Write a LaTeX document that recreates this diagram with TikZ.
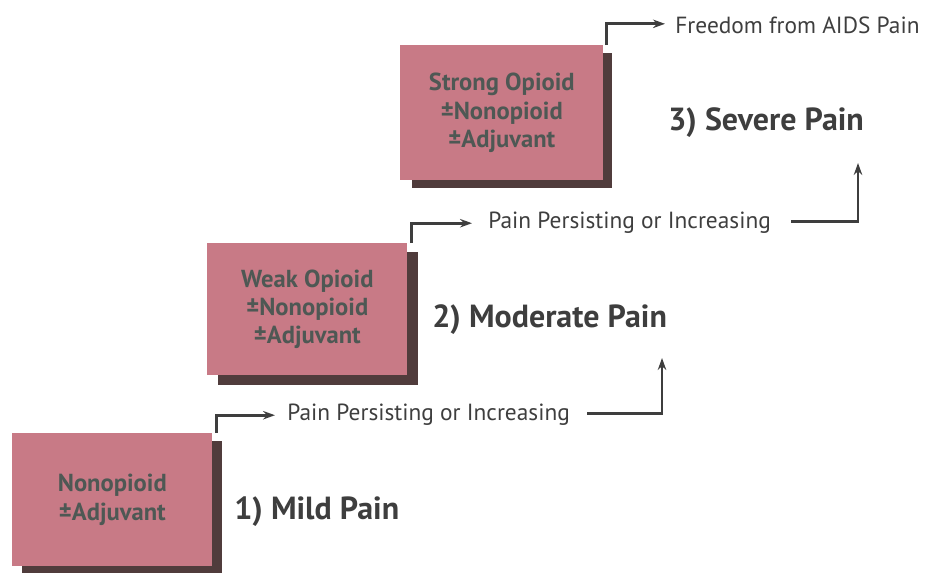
\documentclass[tikz,border=0pt]{standalone}
\usepackage{fontspec}
\setmainfont{PT Sans}
\usetikzlibrary{arrows.meta,calc}
\definecolor{boxpink}{RGB}{200,122,134}
\definecolor{boxshade}{RGB}{80,60,60}
\definecolor{boxtext}{RGB}{78,88,84}
\definecolor{inktext}{RGB}{62,62,62}
\tikzset{
  stepbox/.style={fill=boxpink,minimum width=4cm,minimum height=2.66cm,inner sep=0pt,align=center,
    font=\fontsize{14}{16}\selectfont\bfseries,text=boxtext},
  boxshadow/.style={fill=boxshade},
  painlabel/.style={anchor=base west,inner sep=0pt,font=\fontsize{18.2}{20}\selectfont\bfseries,text=inktext},
  flowtext/.style={anchor=base west,inner sep=0pt,font=\fontsize{13.3}{15}\selectfont,text=inktext},
  flow/.style={draw=inktext,line width=1.6pt,-{Stealth[length=.24cm,width=.17cm]}},
}
\begin{document}
\begin{tikzpicture}[x=.02cm,y=-.02cm]
		\useasboundingbox(0,0)rectangle(925,572);
		% box corners (top left)
		\coordinate(B1)at(12,433);
		\coordinate(B2)at(207,243);
		\coordinate(B3)at(400,45);
		% arrow heads below the pain labels
		\coordinate(T1)at(662,358);
		\coordinate(T2)at(858,163);
		% shadows
		\fill[boxshadow]($(B1)+(10,8)$)rectangle++(200,132);
		\fill[boxshadow]($(B2)+(11,9)$)rectangle++(200,133);
		\fill[boxshadow]($(B3)+(12,8)$)rectangle++(200,135);
		\node[stepbox,anchor=north west](S1)at(B1){Nonopioid\\±Adjuvant};
		\node[stepbox,anchor=north west,minimum height=2.64cm](S2)at(B2){Weak Opioid\\±Nonopioid\\±Adjuvant};
		\node[stepbox,anchor=north west,minimum width=4.06cm,minimum height=2.7cm](S3)at(B3){Strong Opioid\\±Nonopioid\\±Adjuvant};
		\node[painlabel](L1)at(234,519){1) Mild Pain};
		\node[painlabel](L2)at(432,327){2) Moderate Pain};
		\node[painlabel](L3)at(668,130){3) Severe Pain};
		\node[flowtext](P1)at(287,420){Pain Persisting or Increasing};
		\node[flowtext](P2)at(488,228){Pain Persisting or Increasing};
		\node[flowtext](F)at(675,33){Freedom from AIDS Pain};
		\draw[flow,shorten >=.24cm]([xshift=.08cm]S1.north east)|-([yshift=-.02cm]P1.west);
		\draw[flow,shorten >=.32cm]([xshift=.08cm]S2.north east)|-([yshift=-.02cm]P2.west);
		\draw[flow,shorten >=.2cm]([xshift=.06cm]S3.north east)|-([yshift=.02cm]F.west);
		\draw[flow]([xshift=.34cm,yshift=.02cm]P1.east)-|(T1);
		\draw[flow]([xshift=.4cm,yshift=.02cm]P2.east)-|(T2);
		\end{tikzpicture}
\end{document}
